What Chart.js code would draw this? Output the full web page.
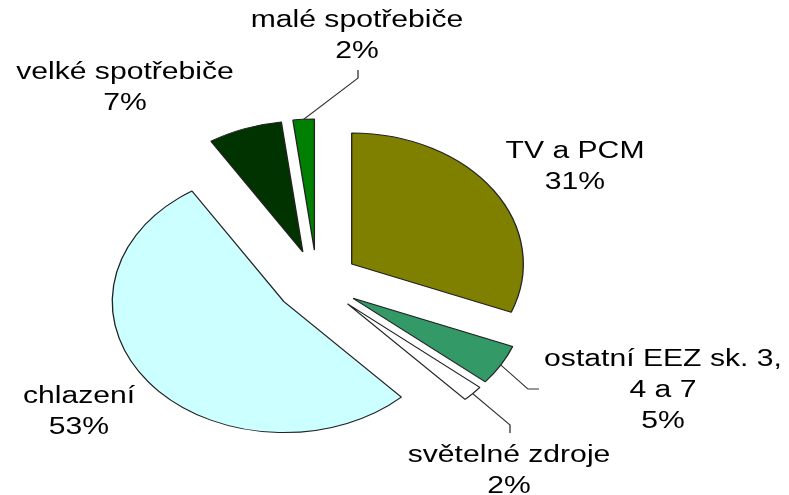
<!DOCTYPE html>
<html>
<head>
<meta charset="utf-8">
<script src="https://cdn.jsdelivr.net/npm/chart.js@4.4.1/dist/chart.umd.min.js"></script>
<style>
  html, body { margin: 0; padding: 0; background: #fff; }
  #box { width: 789px; height: 495px; }
</style>
</head>
<body>
<div id="box"><canvas id="pieChart"></canvas></div>
<script>
// data
const categories = [['TV a PCM'], ['ostatní EEZ sk. 3,', '4 a 7'], ['světelné zdroje'], ['chlazení'], ['velké spotřebiče'], ['malé spotřebiče']];
const shares = [31, 5, 2, 53, 7, 2];
const sliceColors = ['#808000', '#339966', '#FFFFFF', '#CCFFFF', '#003300', '#008000'];

// the original picture is stretched sideways, so draw narrow and scale x
const SX = 1.31;
const EXPLODE = 32;
const RADIUS = 131;
const CX = 242, CY = 282;

// label spots in screen px: centre x, first baseline, leader elbow + end
const labelSpots = [
    { x: 575, y: 158 },
    { x: 663, y: 366, leader: [[528, 389], [539, 389]] },
    { x: 509, y: 462, leader: [[510, 425], [510, 433]] },
    { x: 79, y: 403 },
    { x: 125, y: 79 },
    { x: 357, y: 27, leader: [[358, 78], [358, 70]] }
];
const LINE_H = 31;

const explodedPie = {
    id: 'explodedPie',
    beforeDraw(chart) {
        chart.ctx.save();
        chart.ctx.scale(SX, 1);
    },
    beforeDatasetDraw(chart, args) {
        // push every slice out along its middle angle
        const ctx = chart.ctx;
        args.meta.data.forEach(arc => {
            const mid = (arc.startAngle + arc.endAngle) / 2;
            ctx.save();
            ctx.translate(Math.cos(mid) * EXPLODE, Math.sin(mid) * EXPLODE);
            arc.draw(ctx);
            ctx.restore();
        });
        return false;
    },
    afterDraw(chart) {
        const ctx = chart.ctx;
        const arcs = chart.getDatasetMeta(0).data;
        ctx.font = '23px "Liberation Sans", Arial, sans-serif';
        ctx.textAlign = 'center';
        ctx.textBaseline = 'alphabetic';
        ctx.fillStyle = '#000';
        ctx.strokeStyle = '#333';
        ctx.lineWidth = 1;
        labelSpots.forEach((spot, i) => {
            const lines = categories[i].concat([shares[i] + '%']);
            lines.forEach((t, k) => ctx.fillText(t, spot.x / SX, spot.y + k * LINE_H));
            if (spot.leader) {
                const arc = arcs[i];
                const mid = (arc.startAngle + arc.endAngle) / 2;
                const r = arc.outerRadius + EXPLODE;
                ctx.beginPath();
                ctx.moveTo(arc.x + Math.cos(mid) * r, arc.y + Math.sin(mid) * r);
                spot.leader.forEach(p => ctx.lineTo(p[0] / SX, p[1]));
                ctx.stroke();
            }
        });
        ctx.restore();
    }
};

new Chart(document.getElementById('pieChart'), {
    type: 'pie',
    data: {
        labels: categories,
        datasets: [{
            data: shares,
            backgroundColor: sliceColors,
            borderColor: '#222',
            borderWidth: 1
        }]
    },
    options: {
        responsive: true,
        maintainAspectRatio: false,
        animation: false,
        events: [],
        radius: RADIUS,
        layout: {
            padding: { left: 0, right: 789 - 2 * CX, top: 2 * CY - 495, bottom: 0 }
        },
        plugins: {
            legend: { display: false },
            tooltip: { enabled: false }
        }
    },
    plugins: [explodedPie]
});
</script>
</body>
</html>
